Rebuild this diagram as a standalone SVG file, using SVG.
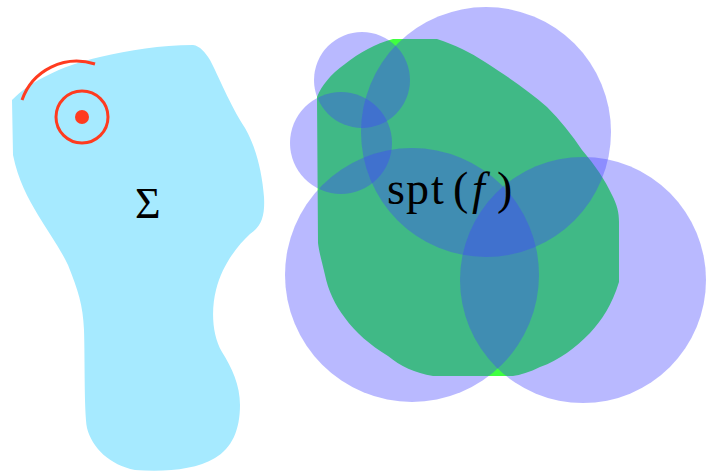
<svg xmlns="http://www.w3.org/2000/svg" width="708" height="473" viewBox="0 0 708 473">
<style>
.disk{fill:#4040ff;fill-opacity:0.37}
.lbl{font-family:"Liberation Serif","DejaVu Serif",serif;fill:#000}
.red{fill:none;stroke:#ff3b1f;stroke-width:3}
</style>
<rect width="708" height="473" fill="#fff"/>
<g id="sigma">
<path fill="#a6eaff" d="M12,100 C30,82 60,66 100,57 C130,50 160,45 193,45 C200,46 205,52 210,60 C218,75 230,105 245,128 C255,145 262,170 264,197 C265,215 262,226 250,234 C238,245 222,265 216,290 C211,310 212,335 222,352 C232,368 240,385 240,405 C240,430 232,448 215,458 C195,470 165,472 135,470 C110,465 92,448 87,428 C84,410 85,360 84,330 C83,305 78,290 68,265 C60,248 48,232 38,215 C28,198 18,180 13,155 Z"/>
<path class="red" d="M22,100 A58,58 0 0 1 95,64"/>
<circle class="red" cx="82" cy="117" r="26"/>
<circle cx="82" cy="117" r="7" fill="#ff3b1f"/>
<text class="lbl" x="135" y="218" font-size="44">Σ</text>
</g>
<g id="support">
<path fill="#40ff40" d="M317,97 C322,85 330,75 345,64 C360,52 375,44 393,39 L437,39 C455,45 470,52 485,62 C510,78 530,92 547,107 C560,120 572,135 582,150 C595,165 605,180 612,195 C617,205 619,212 619,222 L619,282 C612,305 602,320 590,333 C575,348 560,360 540,367 C530,372 520,375 513,376 L433,376 C415,373 400,366 388,356 C370,345 355,332 345,318 C335,305 328,290 325,275 C322,262 319,252 318,243 Z"/>
</g>
<g id="cover">
<circle class="disk" cx="362" cy="80" r="48"/>
<circle class="disk" cx="341" cy="143" r="51"/>
<circle class="disk" cx="486" cy="132" r="125"/>
<circle class="disk" cx="412" cy="275" r="127"/>
<circle class="disk" cx="583" cy="280" r="123"/>
</g>
<g id="label">
<text class="lbl" y="204" font-size="46"><tspan x="387">s</tspan><tspan x="406">p</tspan><tspan x="431">t</tspan><tspan x="453">(</tspan><tspan x="472" font-style="italic">f</tspan><tspan x="497">)</tspan></text>
</g>
</svg>
